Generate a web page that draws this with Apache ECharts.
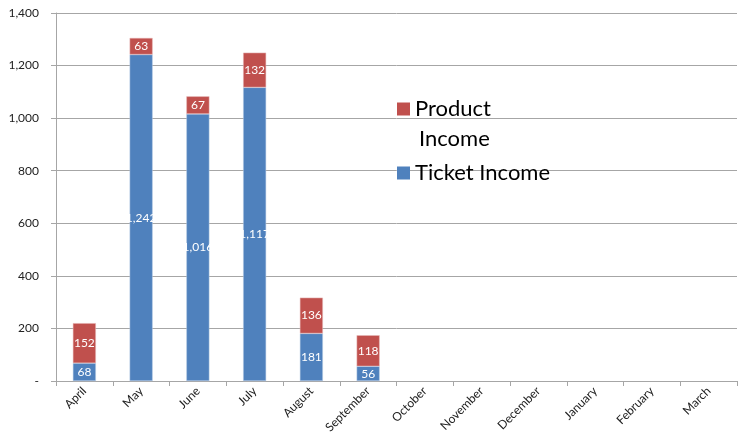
<!DOCTYPE html>
<html>
<head>
<meta charset="utf-8">
<script src="https://cdn.jsdelivr.net/npm/echarts@6/dist/echarts.min.js"></script>
<style>
  html, body { margin: 0; padding: 0; background: #fff; }
  #chart { width: 738px; height: 443px; }
</style>
</head>
<body>
<div id="chart"></div>
<script>
// Monthly income, stacked by source
const months = ['April', 'May', 'June', 'July', 'August', 'September', 'October',
                'November', 'December', 'January', 'February', 'March'];
const ticketIncome = [68, 1242, 1016, 1117, 181, 56, null, null, null, null, null, null];
const productIncome = [152, 63, 67, 132, 136, 118, null, null, null, null, null, null];
const yTickLabels = { 0: '-', 200: '200', 400: '400', 600: '600', 800: '800',
                      1000: '1,000', 1200: '1,200', 1400: '1,400' };

const FONT = 'Lato, "Noto Sans", sans-serif';
const BLUE = '#4F81BD';
const RED = '#C0504D';

const chart = echarts.init(document.getElementById('chart'), null, { renderer: 'canvas' });

const barLabel = {
  show: true,
  position: 'inside',
  color: '#fff',
  fontSize: 12,
  fontFamily: FONT,
  formatter: p => p.value == null ? '' : p.value.toLocaleString('en-US')
};

const legendBase = {
  icon: 'rect',
  itemWidth: 13, itemHeight: 13, itemGap: 9,
  padding: 0,
  itemStyle: { borderWidth: 0 },
  textStyle: { fontSize: 22, fontFamily: FONT, color: '#000' },
  selectedMode: false
};

chart.setOption({
  animation: false,
  grid: { left: 56, right: 1, top: 13, bottom: 62, containLabel: false },
  legend: [
    Object.assign({}, legendBase, {
      data: ['Product Income'],
      left: 397, top: 98,
      formatter: () => 'Product'
    }),
    Object.assign({}, legendBase, {
      data: ['Ticket Income'],
      left: 397, top: 162
    })
  ],
  // second line of the wrapped legend entry
  graphic: [{
    type: 'text',
    left: 419, top: 128,
    style: { text: 'Income', fontSize: 22, fontFamily: FONT, fill: '#000' }
  }],
  xAxis: {
    type: 'category',
    data: months,
    boundaryGap: true,
    axisLine: { lineStyle: { color: '#a6a6a6' } },
    axisTick: { show: true, alignWithLabel: false, length: 5, lineStyle: { color: '#a6a6a6' } },
    axisLabel: { rotate: 45, fontSize: 12, fontFamily: FONT, color: '#222', interval: 0, margin: 8 }
  },
  yAxis: {
    type: 'value',
    min: 0, max: 1400, interval: 200,
    axisLine: { show: true, lineStyle: { color: '#a6a6a6' } },
    axisTick: { show: true, length: 5, lineStyle: { color: '#a6a6a6' } },
    axisLabel: { fontSize: 12, fontFamily: FONT, color: '#222', margin: 17,
                 formatter: v => yTickLabels[v] },
    splitLine: { lineStyle: { color: '#a6a6a6', width: 1 } }
  },
  series: [
    {
      name: 'Ticket Income',
      type: 'bar',
      stack: 'income',
      data: ticketIncome,
      barWidth: 23,
      itemStyle: { color: BLUE, borderColor: '#b9cde5', borderWidth: 0.5 },
      label: barLabel
    },
    {
      name: 'Product Income',
      type: 'bar',
      stack: 'income',
      data: productIncome,
      barWidth: 23,
      itemStyle: { color: RED, borderColor: '#e6b9b8', borderWidth: 0.5 },
      label: barLabel
    }
  ]
});
</script>
</body>
</html>
